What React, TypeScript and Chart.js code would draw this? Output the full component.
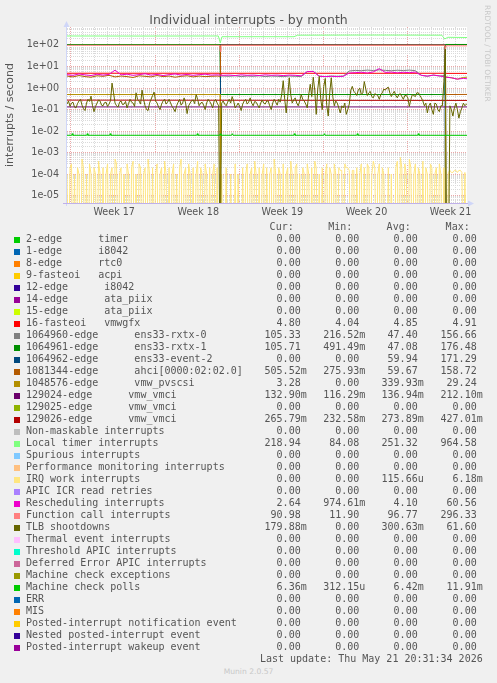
import React, { useEffect, useRef } from 'react';
import { Chart, registerables } from 'chart.js';

Chart.register(...registerables);

const PAGE_W = 497;
const PAGE_H = 683;
const CANVAS_H = 226;

// ---- axes (x in days since the left edge of the month graph) ----
const X_MAX_DAYS = 33.3;
const WEEK_START_DAYS = [0.33, 7.33, 14.33, 21.33, 28.33];
const WEEK_LABEL_DAYS = [3.93, 10.93, 17.93, 24.93, 31.93];
const WEEK_LABELS = ['Week 17', 'Week 18', 'Week 19', 'Week 20', 'Week 21'];
const Y_MIN = 4.58e-6;
const Y_MAX = 685;
const Y_DECADES = [-5, -4, -3, -2, -1, 0, 1, 2];
const Y_TICK_LABELS = ['1e-05', '1e-04', '1e-03', '1e-02', '1e-01', '1e+00', '1e+01', '1e+02'];

// ---- legend ----
const LEGEND_LABELS = [
  '2-edge      timer',
  '1-edge      i8042',
  '8-edge      rtc0',
  '9-fasteoi   acpi',
  '12-edge      i8042',
  '14-edge      ata_piix',
  '15-edge      ata_piix',
  '16-fasteoi   vmwgfx',
  '1064960-edge      ens33-rxtx-0',
  '1064961-edge      ens33-rxtx-1',
  '1064962-edge      ens33-event-2',
  '1081344-edge      ahci[0000:02:02.0]',
  '1048576-edge      vmw_pvscsi',
  '129024-edge      vmw_vmci',
  '129025-edge      vmw_vmci',
  '129026-edge      vmw_vmci',
  'Non-maskable interrupts',
  'Local timer interrupts',
  'Spurious interrupts',
  'Performance monitoring interrupts',
  'IRQ work interrupts',
  'APIC ICR read retries',
  'Rescheduling interrupts',
  'Function call interrupts',
  'TLB shootdowns',
  'Thermal event interrupts',
  'Threshold APIC interrupts',
  'Deferred Error APIC interrupts',
  'Machine check exceptions',
  'Machine check polls',
  'ERR',
  'MIS',
  'Posted-interrupt notification event',
  'Nested posted-interrupt event',
  'Posted-interrupt wakeup event',
];

const SERIES_COLORS = [
  '#00CC00', '#0066B3', '#FF8000', '#FFCC00', '#330099', '#990099', '#CCFF00', '#FF0000',
  '#808080', '#008F00', '#00487D', '#B35A00', '#B38F00', '#6B006B', '#8FB300', '#B30000',
  '#BEBEBE', '#80FF80', '#80C9FF', '#FFC080', '#FFE680', '#AA80FF', '#EE00CC', '#FF8080',
  '#666600', '#FFBFFF', '#00FFCC', '#CC6699', '#999900', '#00CC00', '#0066B3', '#FF8000',
  '#FFCC00', '#330099', '#990099',
];

const CUR = ['0.00','0.00','0.00','0.00','0.00','0.00','0.00','4.80','105.33','105.71','0.00','505.52m','3.28','132.90m','0.00','265.79m','0.00','218.94','0.00','0.00','0.00','0.00','2.64','90.98','179.88m','0.00','0.00','0.00','0.00','6.36m','0.00','0.00','0.00','0.00','0.00'];
const MIN = ['0.00','0.00','0.00','0.00','0.00','0.00','0.00','4.04','216.52m','491.49m','0.00','275.93m','0.00','116.29m','0.00','232.58m','0.00','84.08','0.00','0.00','0.00','0.00','974.61m','11.90','0.00','0.00','0.00','0.00','0.00','312.15u','0.00','0.00','0.00','0.00','0.00'];
const AVG = ['0.00','0.00','0.00','0.00','0.00','0.00','0.00','4.85','47.40','47.08','59.94','59.67','339.93m','136.94m','0.00','273.89m','0.00','251.32','0.00','0.00','115.66u','0.00','4.10','96.77','300.63m','0.00','0.00','0.00','0.00','6.42m','0.00','0.00','0.00','0.00','0.00'];
const MAX = ['0.00','0.00','0.00','0.00','0.00','0.00','0.00','4.91','156.66','176.48','171.29','158.72','29.24','212.10m','0.00','427.01m','0.00','964.58','0.00','0.00','6.18m','0.00','60.56','296.33','61.60','0.00','0.00','0.00','0.00','11.91m','0.00','0.00','0.00','0.00','0.00'];

// ---- series data: [day, interrupts/second] ----
const ZERO_SERIES: number[][] = [[0, 0], [33.5, 0]];

const VMWGFX = [[0, 4.88], [12.7, 4.88], [12.76, 4.04], [12.82, 4.86], [31.45, 4.86], [31.5, 4.5], [31.56, 4.8], [33.5, 4.8]];

const RXTX0 = [
  [0, 105], [12.74, 105], [12.78, 3.6], [13, 3.6], [13.5, 3.5], [14, 3.7], [14.5, 3.4], [15, 3.6], [15.5, 3.5],
  [16, 3.7], [16.5, 3.4], [17, 3.6], [17.5, 3.5], [18, 3.4], [18.5, 3.6], [19, 3.5], [19.5, 3.4], [20, 5.8],
  [20.5, 6.0], [21, 3.6], [21.5, 3.4], [22, 3.6], [22.5, 3.5], [23, 3.6], [23.5, 6.2], [24, 6.6], [24.5, 6.4],
  [25, 6.8], [25.5, 6.5], [26, 7.0], [26.5, 6.6], [27, 6.4], [27.5, 6.7], [28, 6.5], [28.5, 6.8], [29, 6.4],
  [29.5, 3.9], [30, 3.5], [30.5, 4.0], [31, 3.6], [31.46, 3.8], [31.52, 105], [33.5, 105.3],
];

const RXTX1 = [[0, 105], [12.74, 105], [12.78, 0.5], [31.46, 0.5], [31.52, 105.7], [33.5, 105.7]];

const EVENT2 = [[0, 0], [12.74, 0], [12.78, 105], [31.46, 105], [31.52, 0], [33.5, 0]];

const AHCI = [
  [0, 3.6], [0.5, 3.3], [1, 3.8], [1.5, 3.4], [2, 3.2], [2.5, 3.7], [3, 3.5], [3.5, 3.9], [4, 3.3], [4.5, 3.6],
  [5, 3.4], [5.5, 3.1], [6, 3.7], [6.5, 3.5], [7, 3.3], [7.5, 3.8], [8, 3.4], [8.5, 3.6], [9, 3.2], [9.5, 3.5],
  [10, 3.7], [10.5, 3.3], [11, 3.6], [11.5, 3.4], [12, 3.5], [12.5, 3.6], [12.74, 3.5], [12.78, 100],
  [31.46, 100], [31.52, 0.5], [33.5, 0.506],
];

const PVSCSI = [[0, 0.5], [12.74, 0.5], [12.78, 0], [31.46, 0], [31.52, 3.3], [32, 3.0], [32.5, 2.6], [33, 3.1], [33.5, 3.28]];

const VMCI_129024 = [[0, 0.133], [33.5, 0.133]];
const VMCI_129026 = [[0, 0.275], [33.5, 0.266]];

const LOCAL_TIMER = [
  [0, 262], [6, 260], [12.6, 262], [12.76, 125], [12.9, 243], [18.9, 243], [19.2, 285], [25, 290],
  [28, 288], [31.2, 285], [31.45, 190], [31.7, 228], [33.5, 222],
];

const FUNCTION_CALL = [[0, 97], [12.7, 97], [12.76, 50], [12.82, 96], [31.45, 97], [31.5, 65], [31.56, 92], [33.5, 91]];

const MC_POLLS = [
  [0, 0.0064], [0.39, 0.0064], [0.44, 0.0076], [0.49, 0.0064], [1.64, 0.0064], [1.69, 0.0076], [1.74, 0.0064],
  [3.55, 0.0064], [3.6, 0.0076], [3.65, 0.0064], [10.8, 0.0064], [10.85, 0.0076], [10.9, 0.0064],
  [12.7, 0.0064], [12.76, 0.0075], [12.82, 0.0064], [13.7, 0.0064], [13.76, 0.0076], [13.82, 0.0064],
  [18.88, 0.0064], [18.93, 0.0076], [18.98, 0.0064], [21.38, 0.0064], [21.43, 0.0076], [21.48, 0.0064],
  [24.12, 0.0064], [24.17, 0.0076], [24.22, 0.0064], [29.2, 0.0064], [29.25, 0.0076], [29.3, 0.0064],
  [33.5, 0.00636],
];

// regularly sampled series (one sample every STEP days, starting at day 0)
const RESCHED_STEP = 0.5;
const RESCHEDULING = [
  4.2, 3.9, 4.5, 4.1, 3.8, 4.4, 4.0, 4.3, 6.8, 4.1, 4.4, 3.9, 4.2, 4.6, 4.0, 4.3, 3.8, 4.2, 4.5, 4.0, 4.3, 3.9, 4.2, 4.4, 4.0, 4.1,
  3.9, 4.0, 3.8, 4.1, 3.9, 4.0, 3.8, 4.1, 3.9, 4.0, 3.8, 4.0, 3.9, 3.7, 5.8, 5.9, 3.5, 3.4, 3.5, 3.4, 3.5,
  5.0, 5.2, 5.4, 5.0, 5.6, 8.0, 5.3, 5.5, 5.1, 5.4, 5.2, 5.5, 3.9, 3.6, 4.0, 3.7,
  3.2, 3.0, 2.6, 2.8, 2.64,
];

const FINE_STEP = 0.125;
const TLB = [
  0.18, 0.25, 0.14, 0.2, 0.22, 0.13, 0.12, 0.19, 0.25, 0.3,
  0.16, 0.11, 0.09, 0.2, 0.3, 0.24, 0.42, 0.15, 0.08, 0.14,
  0.2, 0.28, 0.25, 0.16, 0.15, 0.21, 0.22, 0.14, 0.18, 0.26,
  1.7, 0.6, 0.2, 0.15, 0.13, 0.22, 0.25, 0.17, 0.18, 0.24,
  0.12, 0.19, 0.3, 0.22, 0.2, 0.14, 0.6, 0.3, 0.25, 0.18,
  0.8, 0.3, 0.15, 0.1, 0.09, 0.2, 0.3, 0.45, 0.65, 0.25,
  0.2, 0.13, 0.1, 0.18, 0.25, 0.3, 0.18, 0.22, 0.3, 0.2,
  0.14, 0.11, 0.08, 0.15, 0.22, 0.3, 0.16, 0.2, 0.35, 0.2,
  0.065, 0.15, 0.2, 0.26, 0.28, 0.19, 0.5, 0.3, 0.15, 0.2,
  0.22, 0.16, 0.1, 0.2, 0.3, 0.24, 0.18, 0.12, 0.25, 0.3,
  0.2, 0.15, 0, 0.2, 0.25, 0.18, 0.15, 0.22, 0.3, 0.2,
  0.4, 0.25, 0.12, 0.15, 0.2, 0.14, 0.09, 0.18, 0.25, 0.3,
  0.18, 0.22, 0.35, 0.2, 0.15, 0.24, 0.22, 0.16, 0.12, 0.2,
  0.28, 0.2, 0.18, 0.25, 0.25, 0.15, 0.1, 0.2, 0.3, 0.22,
  0.16, 0.3, 0.22, 0.5, 2.2, 0.3, 0.07, 0.4, 3.0, 0.5,
  0.2, 0.28, 0.35, 0.2, 0.15, 0.25, 0.5, 0.3, 0.25, 0.18,
  0.12, 0.5, 1.5, 0.4, 3.2, 0.8, 0.06, 0.9, 3.5, 0.3,
  0.1, 1.2, 2.8, 0.15, 0.05, 0.6, 3.0, 0.4, 0.15, 0.25,
  0.2, 0.12, 0.07, 0.15, 0.12, 0.2, 0.06, 0.1, 0.18, 0.8,
  1.2, 0.7, 0.6, 0.45, 0.8, 1.0, 0.5, 0.6, 2.0, 0.9,
  0.45, 0.6, 0.7, 0.4, 0.35, 0.55, 0.5, 0.45, 0.3, 0.5,
  0.6, 0.9, 0.8, 1.0, 1.1, 0.6, 0.4, 0.55, 0.7, 0.45,
  0.35, 0.5, 0.55, 0.4, 0.3, 0.45, 0.45, 0.35, 0.14, 0.3,
  0.5, 0.45, 0.4, 0.6, 0.6, 0.45, 0.35, 0.25, 0.15, 0.2,
  0.07, 0.15, 0.2, 0.1, 0.06, 0.2, 0.18, 0.1, 0.08, 0.15,
  0.15, 2.0, 60, 0, 0, 0.15, 0.1, 0.05, 0.12, 0.2,
  0.1, 0.04, 0.08, 0.12, 0.2, 0.15, 0.18, 0.17, 0.18,
];

const IRQ_WORK = [
  1e-4, 0, 2e-4, 3e-4, 0, 1e-4, 0, 2e-4, 1e-4, 0,
  5e-4, 2e-4, 0, 1e-4, 0, 3e-4, 1e-4, 0, 2e-4, 1e-4,
  0, 4e-4, 1e-4, 0, 2e-4, 0, 1e-4, 3e-4, 0, 1e-4,
  2e-4, 0, 5e-4, 3e-4, 0, 1e-4, 2e-4, 0, 1e-4, 0,
  3e-4, 1e-4, 0, 2e-4, 4e-4, 0, 1e-4, 0, 3e-4, 2e-4,
  0, 1e-4, 2e-4, 0, 5e-4, 1e-4, 0, 2e-4, 0, 1e-4,
  3e-4, 0, 1e-4, 2e-4, 0, 4e-4, 1e-4, 0, 2e-4, 0,
  1e-4, 3e-4, 0, 1e-4, 0, 2e-4, 5e-4, 0, 1e-4, 2e-4,
  0, 3e-4, 1e-4, 0, 2e-4, 0, 1e-4, 4e-4, 0, 2e-4,
  1e-4, 0, 3e-4, 1e-4, 0, 2e-4, 0, 1e-4, 3e-4, 0,
  2e-4, 0, 0, 1e-4, 0, 0, 2e-4, 0, 0, 1e-4,
  0, 0, 3e-4, 0, 1e-4, 0, 0, 2e-4, 0, 1e-4,
  3e-4, 0, 1e-4, 2e-4, 0, 4e-4, 1e-4, 0, 2e-4, 0,
  1e-4, 3e-4, 0, 2e-4, 0, 1e-4, 2e-4, 0, 5e-4, 1e-4,
  0, 2e-4, 1e-4, 0, 3e-4, 0, 1e-4, 2e-4, 0, 4e-4,
  1e-4, 0, 2e-4, 3e-4, 0, 1e-4, 0, 2e-4, 1e-4, 0,
  3e-4, 1e-4, 0, 2e-4, 0, 4e-4, 2e-4, 0, 1e-4, 0,
  2e-4, 0, 1e-4, 3e-4, 0, 2e-4, 1e-4, 0, 3e-4, 1e-4,
  0, 2e-4, 1.5e-4, 1.5e-4, 0, 3e-4, 2e-4, 2e-4, 1.5e-4, 0,
  1.5e-4, 1.5e-4, 0, 2e-4, 0, 1e-4, 3e-4, 0, 2e-4, 0,
  3e-4, 2e-4, 0, 1e-4, 4e-4, 2e-4, 0, 1e-4, 3e-4, 0,
  2e-4, 1e-4, 0, 0, 2e-4, 0, 1e-4, 0, 0, 2e-4,
  4e-4, 0, 6e-4, 2e-4, 0, 3e-4, 1e-4, 0, 5e-4, 2e-4,
  0, 1e-4, 3e-4, 0, 2e-4, 1e-4, 0, 4e-4, 0, 2e-4,
  1e-4, 0, 3e-4, 2e-4, 0, 1e-4, 2e-4, 0, 3e-4, 1e-4,
  0, 2e-4, 0, 0, 1.2e-4, 1.5e-4, 1.2e-4, 1.2e-4, 1.5e-4, 1.5e-4,
  1.2e-4, 1.5e-4, 1.5e-4, 1.2e-4, 0, 1.2e-4, 0, 0, 0,
];

const sampled = (values: number[], step: number) => values.map((v, i) => [i * step, v]);

const SERIES_DATA: number[][][] = [
  ZERO_SERIES, ZERO_SERIES, ZERO_SERIES, ZERO_SERIES, ZERO_SERIES, ZERO_SERIES, ZERO_SERIES, VMWGFX,
  RXTX0, RXTX1, EVENT2, AHCI, PVSCSI, VMCI_129024, ZERO_SERIES, VMCI_129026,
  ZERO_SERIES, LOCAL_TIMER, ZERO_SERIES, ZERO_SERIES, sampled(IRQ_WORK, FINE_STEP), ZERO_SERIES,
  sampled(RESCHEDULING, RESCHED_STEP), FUNCTION_CALL, sampled(TLB, FINE_STEP),
  ZERO_SERIES, ZERO_SERIES, ZERO_SERIES, ZERO_SERIES, MC_POLLS,
  ZERO_SERIES, ZERO_SERIES, ZERO_SERIES, ZERO_SERIES, ZERO_SERIES,
];

// rrdtool draws zero at the floor of a log axis: send it below the axis and let the clip cut it
const LOG_FLOOR = 1e-9;

const TEXT = '#555555';
const GRID_MINOR = '#DADADA';
const GRID_MAJOR = '#EBA8A8';
const AXIS_COLOR = '#CFD6F8';
const AXIS_X_COLOR = '#BFB0EA';

const plotPlugin = {
  id: 'muninFrame',
  beforeDraw(chart: any) {
    const { ctx, chartArea } = chart;
    ctx.save();
    ctx.fillStyle = '#FFFFFF';
    ctx.fillRect(chartArea.left, chartArea.top, chartArea.right - chartArea.left, chartArea.bottom - chartArea.top);
    ctx.restore();
  },
  afterDatasetsDraw(chart: any) {
    const { ctx, chartArea } = chart;
    const { left, right, top, bottom } = chartArea;
    ctx.save();
    ctx.lineWidth = 1;
    ctx.strokeStyle = AXIS_COLOR;
    ctx.beginPath();
    ctx.moveTo(left - 0.5, top - 1);
    ctx.lineTo(left - 0.5, bottom + 3);
    ctx.stroke();
    ctx.strokeStyle = AXIS_X_COLOR;
    ctx.beginPath();
    ctx.moveTo(left - 4, bottom + 0.5);
    ctx.lineTo(right + 1, bottom + 0.5);
    ctx.stroke();
    ctx.fillStyle = AXIS_COLOR;
    ctx.beginPath();
    ctx.moveTo(left - 3.5, top);
    ctx.lineTo(left + 2.5, top);
    ctx.lineTo(left - 0.5, top - 6);
    ctx.closePath();
    ctx.fill();
    ctx.beginPath();
    ctx.moveTo(right + 1, bottom - 2.5);
    ctx.lineTo(right + 1, bottom + 3.5);
    ctx.lineTo(right + 7, bottom + 0.5);
    ctx.closePath();
    ctx.fill();
    ctx.restore();
  },
};

const isDecade = (v: number) => {
  const l = Math.log10(v);
  return Math.abs(l - Math.round(l)) < 1e-6;
};

function buildConfig(): any {
  const n = SERIES_DATA.length;
  const datasets = SERIES_DATA.map((pts, i) => ({
    label: LEGEND_LABELS[i],
    data: pts.map(([x, y]) => ({ x, y: y > 0 ? y : LOG_FLOOR })),
    borderColor: SERIES_COLORS[i],
    backgroundColor: SERIES_COLORS[i],
    borderWidth: 1,
    pointRadius: 0,
    tension: 0,
    fill: false,
    order: n - i,
  }));

  return {
    type: 'line',
    data: { datasets },
    plugins: [plotPlugin],
    options: {
      animation: false,
      responsive: false,
      devicePixelRatio: 1,
      events: [],
      layout: { padding: { left: 0, right: PAGE_W - 467, top: 27, bottom: 0 } },
      plugins: { legend: { display: false }, tooltip: { enabled: false }, title: { display: false } },
      scales: {
        x: {
          type: 'linear',
          min: 0,
          max: X_MAX_DAYS,
          border: { display: false, dash: [1, 1] },
          afterFit: (scale: any) => { scale.height = CANVAS_H - 203; },
          afterBuildTicks: (scale: any) => {
            const ticks: any[] = [];
            for (let d = WEEK_START_DAYS[0]; d <= X_MAX_DAYS; d += 1) {
              const major = WEEK_START_DAYS.some((w) => Math.abs(w - d) < 1e-6);
              ticks.push({ value: d, kind: major ? 'major' : 'minor' });
            }
            WEEK_LABEL_DAYS.forEach((d, w) => ticks.push({ value: d, kind: 'label', w }));
            ticks.sort((a, b) => a.value - b.value);
            scale.ticks = ticks;
          },
          grid: {
            drawTicks: false,
            color: (ctx: any) => {
              const k = ctx.tick && ctx.tick.kind;
              if (k === 'major') return GRID_MAJOR;
              if (k === 'minor') return GRID_MINOR;
              return 'rgba(0,0,0,0)';
            },
          },
          ticks: {
            autoSkip: false,
            maxRotation: 0,
            padding: 4,
            color: TEXT,
            font: { family: "'DejaVu Sans'", size: 9.6 },
            callback: (_v: any, idx: number, ticks: any[]) =>
              ticks[idx] && ticks[idx].kind === 'label' ? WEEK_LABELS[ticks[idx].w] : '',
          },
        },
        y: {
          type: 'logarithmic',
          min: Y_MIN,
          max: Y_MAX,
          border: { display: false, dash: [1, 1] },
          afterFit: (scale: any) => { scale.width = 67; },
          afterBuildTicks: (scale: any) => {
            const ticks: any[] = [];
            for (let d = -6; d <= 2; d++) {
              for (let k = 1; k <= 9; k++) {
                const v = k * Math.pow(10, d);
                if (v >= Y_MIN && v <= Y_MAX) ticks.push({ value: v });
              }
            }
            scale.ticks = ticks;
          },
          grid: {
            drawTicks: false,
            color: (ctx: any) => (ctx.tick && isDecade(ctx.tick.value) ? GRID_MAJOR : GRID_MINOR),
          },
          ticks: {
            autoSkip: false,
            padding: 8,
            color: TEXT,
            font: { family: "'DejaVu Sans'", size: 9.6 },
            callback: (v: any) => {
              const val = Number(v);
              if (!isDecade(val)) return '';
              const idx = Y_DECADES.indexOf(Math.round(Math.log10(val)));
              return idx >= 0 ? Y_TICK_LABELS[idx] : '';
            },
          },
          title: {
            display: true,
            text: 'interrupts / second',
            color: TEXT,
            padding: { top: 4, bottom: 0 },
            font: { family: "'DejaVu Sans'", size: 11 },
          },
        },
      },
    },
  };
}

const COL_RIGHT = [306.7, 365.3, 423.7, 482.7];
const HEADERS = ['Cur:', 'Min:', 'Avg:', 'Max:'];
const ROW0_CENTER = 239.3;
const ROW_STEP = 12;

const fmt = (s: string) => (/[0-9]$/.test(s) ? s + ' ' : s);

export default function App() {
  const ref = useRef<HTMLCanvasElement>(null);
  useEffect(() => {
    if (!ref.current) return;
    const chart = new Chart(ref.current, buildConfig());
    return () => chart.destroy();
  }, []);

  const mono: React.CSSProperties = {
    position: 'absolute',
    fontFamily: "'DejaVu Sans Mono', monospace",
    fontSize: 10,
    lineHeight: '12px',
    whiteSpace: 'pre',
    color: TEXT,
  };
  const cols = [CUR, MIN, AVG, MAX];

  return (
    <div style={{ position: 'fixed', left: 0, top: 0, width: PAGE_W, height: PAGE_H, background: '#F0F0F0', overflow: 'hidden' }}>
      <canvas ref={ref} width={PAGE_W} height={CANVAS_H} style={{ position: 'absolute', left: 0, top: 0, display: 'block' }} />
      <div style={{ position: 'absolute', left: 0, top: 11.5, width: PAGE_W, textAlign: 'center', fontFamily: "'DejaVu Sans'", fontSize: 12.5, lineHeight: '15px', color: TEXT }}>
        Individual interrupts - by month
      </div>
      <div style={{ position: 'absolute', left: 482.5, top: 5, width: 9, writingMode: 'vertical-rl', fontFamily: "'DejaVu Sans'", fontSize: 7.5, lineHeight: '9px', color: '#C8C8C8', whiteSpace: 'nowrap' }}>
        RRDTOOL / TOBI OETIKER
      </div>
      {HEADERS.map((h, c) => (
        <div key={h} style={{ ...mono, right: PAGE_W - COL_RIGHT[c] + 13, top: ROW0_CENTER - ROW_STEP - 6 }}>{h}</div>
      ))}
      {LEGEND_LABELS.map((label, i) => {
        const cy = ROW0_CENTER + i * ROW_STEP;
        return (
          <React.Fragment key={i}>
            <div style={{ position: 'absolute', left: 14, top: cy - 2.7, width: 6, height: 6, background: SERIES_COLORS[i] }} />
            <div style={{ ...mono, left: 26, top: cy - 6 }}>{label}</div>
            {cols.map((col, c) => (
              <div key={c} style={{ ...mono, right: PAGE_W - COL_RIGHT[c], top: cy - 6 }}>{fmt(col[i])}</div>
            ))}
          </React.Fragment>
        );
      })}
      <div style={{ ...mono, right: PAGE_W - COL_RIGHT[3], top: ROW0_CENTER + LEGEND_LABELS.length * ROW_STEP - 6 }}>
        Last update: Thu May 21 20:31:34 2026
      </div>
      <div style={{ position: 'absolute', left: 0, top: 667, width: PAGE_W, textAlign: 'center', fontFamily: "'DejaVu Sans'", fontSize: 7.6, lineHeight: '10px', color: '#C8C8C8' }}>
        Munin 2.0.57
      </div>
    </div>
  );
}
